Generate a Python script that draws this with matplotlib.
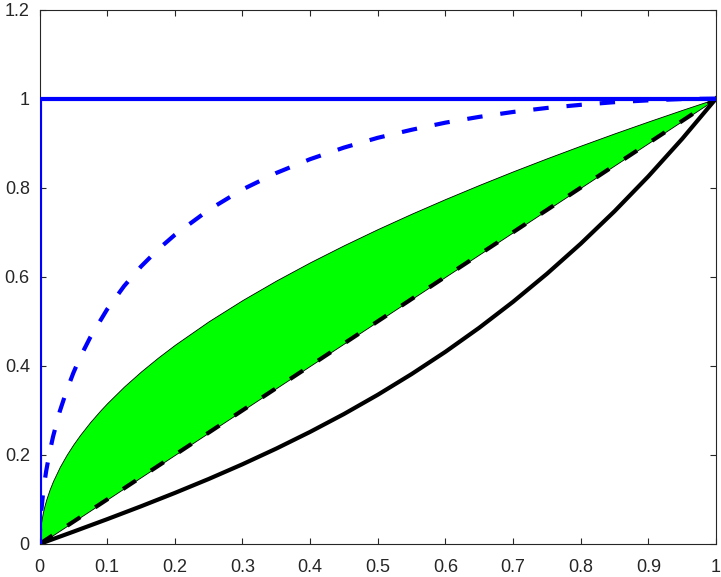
import matplotlib
matplotlib.use("Agg")
import matplotlib.pyplot as plt

plt.rcParams['font.family'] = ['Liberation Sans', 'DejaVu Sans']

# Perfect classifier (blue solid)
perfect_x = [0, 0, 1]
perfect_y = [0, 1, 1]

# Good classifier (blue dashed)
good_x = [0, 0.001, 0.002, 0.005, 0.0075, 0.01, 0.015, 0.02, 0.03, 0.04, 0.05, 0.06, 0.075,
          0.1, 0.125, 0.15, 0.175, 0.2, 0.25, 0.3, 0.35, 0.4, 0.45, 0.5, 0.55, 0.6, 0.65,
          0.7, 0.75, 0.8, 0.85, 0.9, 0.95, 1.0]
good_y = [0, 0.041, 0.063, 0.110, 0.140, 0.165, 0.206, 0.241, 0.298, 0.344, 0.384, 0.419,
          0.464, 0.527, 0.579, 0.623, 0.661, 0.694, 0.750, 0.796, 0.833, 0.864, 0.890, 0.912,
          0.930, 0.946, 0.959, 0.970, 0.979, 0.986, 0.992, 0.996, 0.999, 1.0]

# Green band: upper curve and random (diagonal) lower edge
band_x = [0, 0.001, 0.0025, 0.005, 0.0075, 0.01, 0.015, 0.02, 0.03, 0.04, 0.05, 0.06, 0.075,
          0.09, 0.1, 0.125, 0.15, 0.175, 0.2, 0.25, 0.3, 0.35, 0.4, 0.45, 0.5, 0.55, 0.6,
          0.65, 0.7, 0.75, 0.8, 0.85, 0.9, 0.95, 1.0]
band_upper = [0, 0.0316, 0.05, 0.0707, 0.0866, 0.1, 0.1225, 0.1414, 0.1732, 0.2, 0.2236,
              0.2449, 0.2739, 0.3, 0.3162, 0.3536, 0.3873, 0.4183, 0.4472, 0.5, 0.5477,
              0.5916, 0.6325, 0.6708, 0.7071, 0.7416, 0.7746, 0.8062, 0.8367, 0.8660, 0.8944,
              0.9220, 0.9487, 0.9747, 1.0]
band_lower = list(band_x)

# Random classifier (black dashed)
rand_x = [0, 1]
rand_y = [0, 1]

# Worse-than-random classifier (black solid)
worse_x = [0, 0.05, 0.1, 0.15, 0.2, 0.25, 0.3, 0.35, 0.4, 0.45, 0.5, 0.55, 0.6, 0.65, 0.7,
           0.75, 0.8, 0.85, 0.9, 0.95, 1.0]
worse_y = [0, 0.0276, 0.0557, 0.0846, 0.1146, 0.1459, 0.1790, 0.2142, 0.2517, 0.2918, 0.335,
           0.3815, 0.4315, 0.4855, 0.5438, 0.6066, 0.6742, 0.7471, 0.8255, 0.9097, 1.0]

xticks = [0, 0.1, 0.2, 0.3, 0.4, 0.5, 0.6, 0.7, 0.8, 0.9, 1]
xticklabels = ['0', '0.1', '0.2', '0.3', '0.4', '0.5', '0.6', '0.7', '0.8', '0.9', '1']
yticks = [0, 0.2, 0.4, 0.6, 0.8, 1, 1.2]
yticklabels = ['0', '0.2', '0.4', '0.6', '0.8', '1', '1.2']

fig = plt.figure(figsize=(7.21, 5.77), dpi=100)
ax = fig.add_axes([0.0548, 0.0572, 0.9383, 0.9263])

ax.fill_between(band_x, band_lower, band_upper, facecolor=(0, 1, 0), edgecolor='black',
                linewidth=0.6, zorder=1)
ax.plot(rand_x, rand_y, color='black', linestyle=(0, (3.7, 4.3)), linewidth=3, zorder=2)
ax.plot(worse_x, worse_y, color='black', linestyle='-', linewidth=3, zorder=3)
ax.plot(good_x, good_y, color=(0, 0, 1), linestyle=(0, (3.7, 4.3)), linewidth=3, zorder=4)
ax.plot(perfect_x, perfect_y, color=(0, 0, 1), linestyle='-', linewidth=3, zorder=5)

ax.set_xlim(0, 1)
ax.set_ylim(0, 1.2)
ax.set_xticks(xticks)
ax.set_xticklabels(xticklabels)
ax.set_yticks(yticks)
ax.set_yticklabels(yticklabels)

tc = '#262626'
for s in ax.spines.values():
    s.set_color(tc)
    s.set_linewidth(0.8)
ax.tick_params(direction='in', length=4.5, width=0.8, color=tc, labelcolor=tc,
               labelsize=13, top=True, right=True)
ax.tick_params(axis='x', pad=11)
ax.tick_params(axis='y', pad=7)

fig.savefig('out.png', dpi=100)
